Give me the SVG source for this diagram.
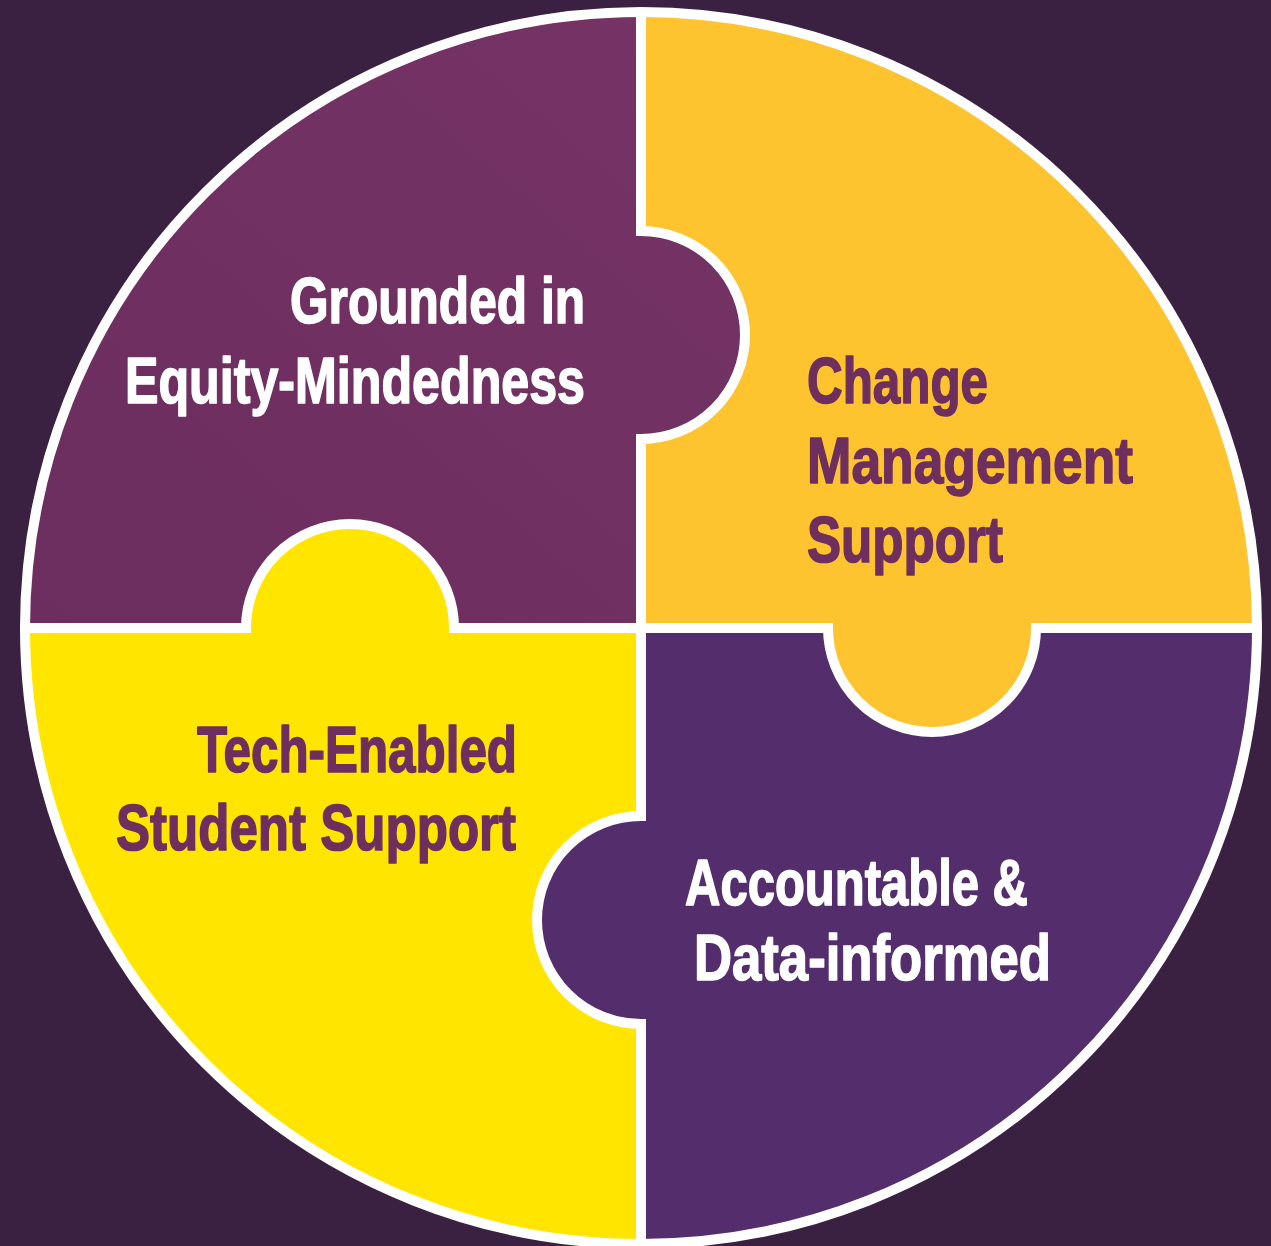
<svg xmlns="http://www.w3.org/2000/svg" width="1271" height="1246" viewBox="0 0 1271 1246">
  <defs>
    <linearGradient id="gTL" x1="0" y1="1" x2="1" y2="0">
      <stop offset="0" stop-color="#6B2E5E"/>
      <stop offset="1" stop-color="#763366"/>
    </linearGradient>
  </defs>
  <style>
    .lbl { font-family: "Liberation Sans", Arial, sans-serif; font-weight: bold; font-size: 64px; stroke-width: 1.6; stroke-linejoin: round; }
    .w { fill: #FFFFFF; stroke: #FFFFFF; }
    .p { fill: #6E2F5F; stroke: #6E2F5F; }
    .line { fill: none; stroke: #FFFFFF; stroke-width: 10; stroke-linejoin: miter; }
  </style>
  <rect x="0" y="0" width="1271" height="1246" fill="#3A2141"/>

  <g id="equity">
    <path fill="url(#gTL)" d="M641 628 L641 439 A104 104 0 0 0 641 231 L641 12 A616 616 0 0 0 25 628 L246 628 A104 104 0 0 1 454 628 Z"/>
    <text class="lbl w" x="290" y="323" textLength="295" lengthAdjust="spacingAndGlyphs">Grounded in</text>
    <text class="lbl w" x="125" y="403" textLength="460" lengthAdjust="spacingAndGlyphs">Equity-Mindedness</text>
  </g>

  <g id="change">
    <path fill="#FEC430" d="M641 628 L828 628 A104 104 0 0 0 1036 628 L1257 628 A616 616 0 0 0 641 12 L641 231 A104 104 0 0 1 641 439 Z"/>
    <text class="lbl p" x="807" y="403" textLength="181" lengthAdjust="spacingAndGlyphs">Change</text>
    <text class="lbl p" x="807" y="483" textLength="326" lengthAdjust="spacingAndGlyphs">Management</text>
    <text class="lbl p" x="807" y="562" textLength="196" lengthAdjust="spacingAndGlyphs">Support</text>
  </g>

  <g id="accountable">
    <path fill="#532D6C" d="M641 628 L641 816 A104 104 0 0 0 641 1024 L641 1244 A616 616 0 0 0 1257 628 L1036 628 A104 104 0 0 1 828 628 Z"/>
    <text class="lbl w" x="685" y="905" textLength="343" lengthAdjust="spacingAndGlyphs">Accountable &amp;</text>
    <text class="lbl w" x="694" y="980" textLength="357" lengthAdjust="spacingAndGlyphs">Data-informed</text>
  </g>

  <g id="tech">
    <path fill="#FFE500" d="M641 628 L454 628 A104 104 0 0 0 246 628 L25 628 A616 616 0 0 0 641 1244 L641 1024 A104 104 0 0 1 641 816 Z"/>
    <text class="lbl p" x="197" y="772" textLength="320" lengthAdjust="spacingAndGlyphs">Tech-Enabled</text>
    <text class="lbl p" x="116" y="850" textLength="400" lengthAdjust="spacingAndGlyphs">Student Support</text>
  </g>

  <g id="connectors">
    <path class="line" d="M25 628 L246 628 A104 104 0 0 1 454 628 L828 628 A104 104 0 0 0 1036 628 L1257 628"/>
    <path class="line" d="M641 12 L641 231 A104 104 0 0 1 641 439 L641 816 A104 104 0 0 0 641 1024 L641 1244"/>
    <circle class="line" cx="641" cy="628" r="616"/>
  </g>
</svg>
